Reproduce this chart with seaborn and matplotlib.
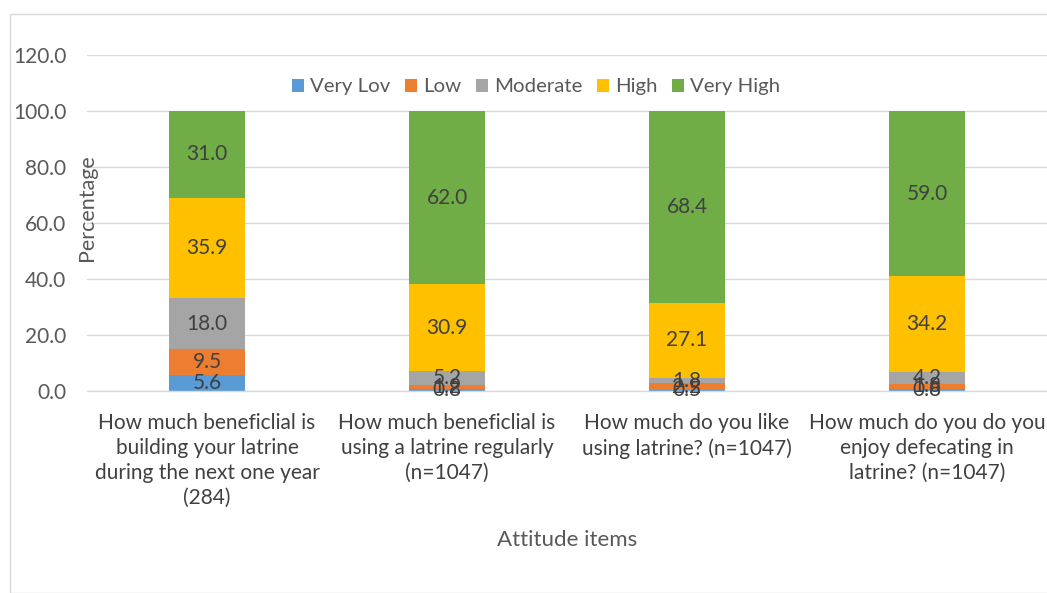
import matplotlib
matplotlib.use("Agg")
import matplotlib.pyplot as plt
import seaborn as sns
import numpy as np
from matplotlib.patches import Rectangle

categories = [
    "How much beneficlial is\nbuilding your latrine\nduring the next one year\n(284)",
    "How much beneficlial is\nusing a latrine regularly\n(n=1047)",
    "How much do you like\nusing latrine? (n=1047)",
    "How much do you do you\nenjoy defecating in\nlatrine? (n=1047)",
]
series_names = ["Very Lov", "Low", "Moderate", "High", "Very High"]
very_low = [5.6, 0.8, 0.5, 0.8]
low = [9.5, 1.2, 2.2, 1.8]
moderate = [18.0, 5.2, 1.8, 4.2]
high = [35.9, 30.9, 27.1, 34.2]
very_high = [31.0, 62.0, 68.4, 59.0]
yticks = [0, 20, 40, 60, 80, 100, 120]

colors = ["#5B9BD5", "#ED7D31", "#A5A5A5", "#FFC000", "#70AD47"]

sns.set_theme(style="white")
plt.rcParams["font.family"] = ["Lato", "DejaVu Sans"]

FS = 15

fig = plt.figure(figsize=(10.47, 5.93), dpi=100)
ax = fig.add_axes([87/1047, 1 - 391/593, 1 - 87/1047, (391 - 55)/593])

series = [very_low, low, moderate, high, very_high]
bottom = np.zeros(len(categories))
x = np.arange(len(categories))
for name, vals, col in zip(series_names, series, colors):
    sns.barplot(x=x, y=vals, bottom=bottom, color=col, width=0.32,
                ax=ax, native_scale=True, saturation=1, edgecolor="none")
    for xi, b, v in zip(x, bottom, vals):
        ax.text(xi, b + v / 2, f"{v:.1f}", ha="center", va="center",
                fontsize=FS, color="#404040")
    bottom = bottom + np.array(vals)

if ax.get_legend() is not None:
    ax.get_legend().remove()

ax.set_xlim(-0.5, len(categories) - 0.5)
ax.set_ylim(0, 120)
ax.set_yticks(yticks)
ax.set_yticklabels([f"{v:.1f}" for v in yticks], fontsize=FS, color="#595959")
ax.set_xticks(x)
ax.set_xticklabels(categories, fontsize=FS, color="#404040", linespacing=1.3)
ax.tick_params(axis="y", length=0, pad=15)
ax.tick_params(axis="x", length=0, pad=16)
ax.yaxis.grid(True, color="#D9D9D9", linewidth=1)
ax.set_axisbelow(True)
for s in ["left", "right", "top"]:
    ax.spines[s].set_visible(False)
ax.spines["bottom"].set_color("#D9D9D9")
ax.spines["bottom"].set_linewidth(1)
ax.set_facecolor("none")

ax.set_xlabel("")
ax.set_ylabel("")
fig.text(87/1047, 1 - 208/593, "Percentage", rotation=90, ha="center", va="center",
         fontsize=FS + 0.5, color="#595959")
fig.text(567/1047, 1 - 540/593, "Attitude items", ha="center", va="center",
         fontsize=FS + 1, color="#595959")

handles = [Rectangle((0, 0), 1, 1, facecolor=c, edgecolor="none") for c in colors]
leg = fig.legend(handles, series_names, loc="center", bbox_to_anchor=(536/1047, 1 - 87/593),
                 ncol=5, frameon=False, fontsize=FS - 0.3, handlelength=0.6, handleheight=0.6,
                 handletextpad=0.3, columnspacing=0.7)
for t in leg.get_texts():
    t.set_color("#595959")

fig.add_artist(Rectangle((10/1047, 0), 1.2, 1 - 14/593, transform=fig.transFigure,
                         fill=False, edgecolor="#D9D9D9", linewidth=1))

fig.savefig("out.png", dpi=100)
